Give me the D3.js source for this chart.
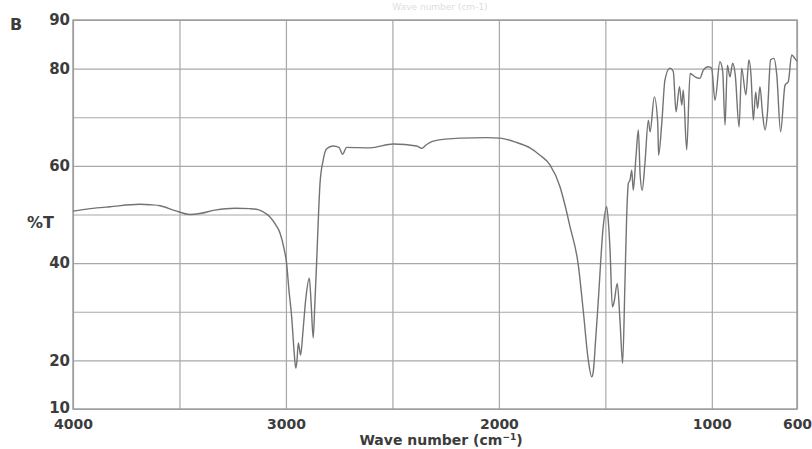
<!DOCTYPE html>
<html lang="en">
<head>
<meta charset="UTF-8">
<title>IR spectrum B</title>
<script src="https://cdn.jsdelivr.net/npm/d3@7"></script>
<style>
  body { margin: 0; background: #fff; }
  text { font-family: "DejaVu Sans", sans-serif; fill: #3c3c3c; }
</style>
</head>
<body>
<script>
    // wavenumber (cm-1), left to right
    var waveNumbers = [4000, 3920, 3826, 3685, 3638, 3591, 3521, 3451, 3404, 3333, 3239, 3169, 3131, 3098, 3075,
        3047, 3028, 3009, 2997, 2986, 2973, 2962, 2954, 2948, 2942, 2937, 2931, 2920, 2906, 2890, 2882, 2872,
        2864, 2856, 2847, 2840, 2825, 2809, 2779, 2751, 2734, 2715, 2605, 2496, 2386, 2362, 2342, 2308, 2183,
        2057, 1995, 1916, 1854, 1807, 1760, 1713, 1690, 1666, 1627, 1604, 1580, 1564, 1557, 1546, 1533, 1510,
        1494, 1485, 1478, 1467, 1459, 1444, 1431, 1419, 1408, 1400, 1392, 1384, 1376, 1369, 1356, 1345, 1337,
        1327, 1314, 1298, 1290, 1270, 1254, 1250, 1235, 1220, 1197, 1181, 1168, 1152, 1141, 1134, 1118, 1102,
        1079, 1056, 1040, 1017, 1001, 985, 962, 949, 938, 927, 915, 902, 890, 872, 860, 840, 826, 816, 805,
        794, 785, 774, 762, 750, 739, 724, 708, 695, 677, 656, 641, 625, 610, 600];

    // %T at each wavenumber
    var transmittance = [50.7, 51.2, 51.6, 52.1, 52.0, 51.8, 50.8, 50.0, 50.2, 50.9, 51.3, 51.2, 51.0, 50.3, 49.5,
        47.8, 46.2, 43.0, 40.0, 34.5, 28.9, 22.0, 18.4, 20.0, 23.6, 22.5, 21.1, 26.0, 33.0, 36.9, 32.0, 24.6,
        32.0, 40.0, 50.0, 56.4, 61.2, 63.5, 64.1, 63.8, 62.4, 63.8, 63.7, 64.5, 64.1, 63.6, 64.3, 65.1, 65.7,
        65.8, 65.7, 64.8, 63.7, 62.2, 60.2, 55.7, 52.0, 47.5, 39.6, 30.3, 20.0, 16.6, 17.6, 24.0, 32.4, 47.5,
        51.6, 48.0, 42.7, 31.0, 32.0, 35.8, 28.0, 19.4, 35.9, 49.5, 56.4, 57.1, 59.1, 55.0, 62.0, 67.4, 58.5,
        55.0, 60.6, 69.4, 67.0, 74.2, 68.8, 62.2, 68.8, 77.7, 80.1, 79.4, 71.1, 76.3, 72.5, 75.6, 63.3, 79.0,
        78.3, 78.0, 79.7, 80.4, 80.1, 73.5, 81.4, 79.4, 68.4, 80.7, 78.3, 81.1, 78.7, 68.0, 80.1, 74.6, 81.8, 78.7, 69.4,
        75.2, 71.8, 76.3, 70.8, 67.4, 70.8, 81.8, 82.1, 78.7, 67.0, 76.6, 77.3, 82.8, 82.1, 81.5];

    var xGrid = [4000, 3500, 3000, 2500, 2000, 1500, 1000, 600];
    var xLabels = [4000, 3000, 2000, 1000, 600];
    var yGrid = [10, 20, 30, 40, 50, 60, 70, 80, 90];
    var yLabels = [10, 20, 40, 60, 80, 90];

    var width = 812, height = 449;
    var plotLeft = 73, plotRight = 797, plotTop = 20, plotBottom = 409;

    var svg = d3.select("body").append("svg")
        .attr("width", width)
        .attr("height", height);

    svg.append("rect").attr("width", width).attr("height", height).attr("fill", "#fff");

    var x = d3.scaleLinear().domain([4000, 600]).range([plotLeft, plotRight]);
    var y = d3.scaleLinear().domain([10, 90]).range([plotBottom, plotTop]);

    // faint title at the very top
    svg.append("text")
        .attr("x", 440).attr("y", 10)
        .attr("text-anchor", "middle")
        .style("font-size", "9px")
        .style("fill", "#dedede")
        .text("Wave number (cm-1)");

    // grid + tick labels
    var yAxis = d3.axisLeft(y)
        .tickValues(yGrid)
        .tickSize(-(plotRight - plotLeft))
        .tickPadding(3)
        .tickFormat(function (d) { return yLabels.indexOf(d) >= 0 ? d : ""; });

    var xAxis = d3.axisBottom(x)
        .tickValues(xGrid)
        .tickSize(-(plotBottom - plotTop))
        .tickPadding(10)
        .tickFormat(function (d) { return xLabels.indexOf(d) >= 0 ? d : ""; });

    var gy = svg.append("g").attr("transform", "translate(" + plotLeft + ",0)").call(yAxis);
    var gx = svg.append("g").attr("transform", "translate(0," + plotBottom + ")").call(xAxis);

    [gx, gy].forEach(function (g) {
        g.select(".domain").remove();
        g.selectAll("line").attr("stroke", "#a8a8a8").attr("stroke-width", 1.2);
        g.selectAll("text")
            .style("font-size", "14px")
            .style("font-weight", "bold")
            .style("font-family", "'DejaVu Sans', sans-serif")
            .attr("fill", "#3c3c3c");
    });
    gy.selectAll("text").style("font-size", "15px");
    // nudge the bottom "10" up a little so it clears "4000"
    gy.selectAll(".tick").filter(function (d) { return d === 10; }).select("text").attr("dy", "0.2em");

    // frame
    svg.append("rect")
        .attr("x", plotLeft).attr("y", plotTop)
        .attr("width", plotRight - plotLeft).attr("height", plotBottom - plotTop)
        .attr("fill", "none")
        .attr("stroke", "#9a9a9a")
        .attr("stroke-width", 1.4);

    // spectrum
    var points = waveNumbers.map(function (w, i) { return [w, transmittance[i]]; });
    var line = d3.line()
        .x(function (d) { return x(d[0]); })
        .y(function (d) { return y(d[1]); })
        .curve(d3.curveMonotoneX);

    svg.append("path")
        .datum(points)
        .attr("d", line)
        .attr("fill", "none")
        .attr("stroke", "#737373")
        .attr("stroke-width", 1.4);

    // labels
    svg.append("text")
        .attr("x", 10).attr("y", 30)
        .style("font-size", "16px").style("font-weight", "bold")
        .text("B");

    svg.append("text")
        .attr("x", 27).attr("y", 228)
        .style("font-size", "16px").style("font-weight", "bold")
        .text("%T");

    var title = svg.append("text")
        .attr("x", 441).attr("y", 445)
        .attr("text-anchor", "middle")
        .style("font-size", "14px").style("font-weight", "bold");
    title.append("tspan").text("Wave number (cm");
    title.append("tspan").attr("dy", -5).style("font-size", "9px").text("\u22121");
    title.append("tspan").attr("dy", 5).text(")");
</script>
</body>
</html>
